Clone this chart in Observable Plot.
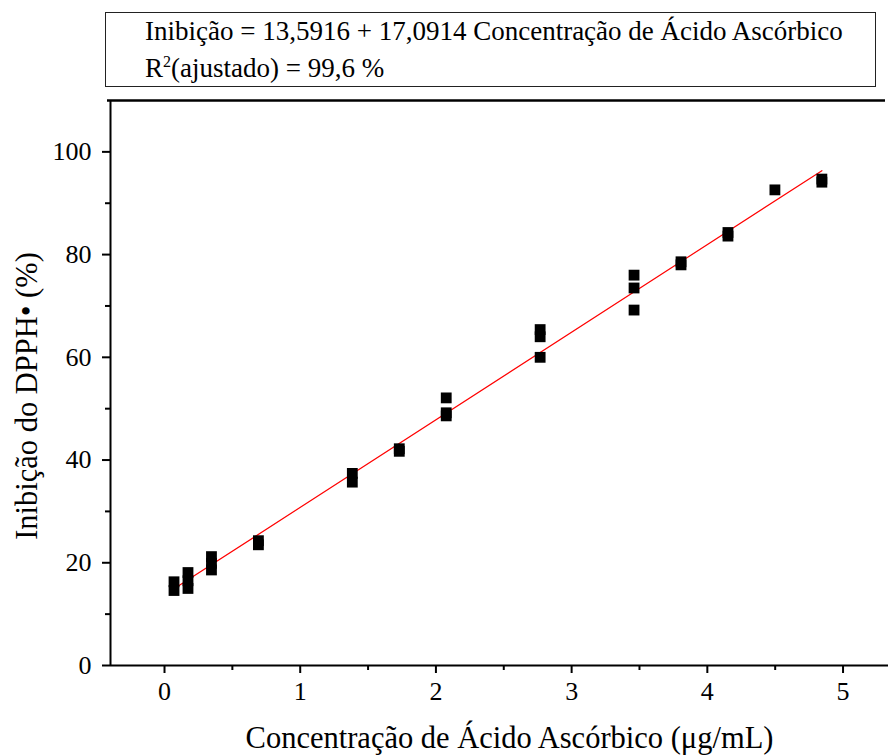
<!DOCTYPE html>
<html><head><meta charset="utf-8">
<script src="https://cdn.jsdelivr.net/npm/d3@7"></script>
<script src="https://cdn.jsdelivr.net/npm/@observablehq/plot@0.6"></script>
<style>
body{margin:0;background:#fff;font-family:"Liberation Serif","Times New Roman",serif;}
#wrap{position:relative;width:888px;height:756px;overflow:hidden;}
#chart{position:absolute;left:0;top:0;}
#box{position:absolute;left:105px;top:12px;width:771px;height:75px;border:1px solid #222;box-sizing:border-box;font-size:27px;color:#000;}
#box .ln{position:absolute;left:39px;height:27px;line-height:27px;white-space:nowrap;}
#l1{top:5px;}
#l2{top:42px;}
#box sup{font-size:16px;vertical-align:10px;line-height:0;}
</style></head>
<body><div id="wrap"><div id="chart"></div><div id="box"><div class="ln" id="l1"></div><div class="ln" id="l2"></div></div></div>
<script>
// Data
const concentration = [0.07,0.07, 0.173,0.173,0.173, 0.346,0.346,0.346, 0.692,0.692, 1.384,1.384, 1.73,1.73, 2.076,2.076,2.076, 2.768,2.768,2.768, 3.46,3.46,3.46, 3.806,3.806, 4.152,4.152, 4.498, 4.844,4.844];
const inhibition =    [16.3,14.6, 18.1,16.5,15.0, 21.2,19.9,18.6, 24.3,23.5, 37.4,35.7, 42.2,41.7, 52.1,49.2,48.6, 65.4,64.0,60.0, 76.0,73.5,69.2, 78.6,78.0, 84.3,83.6, 92.6, 94.7,94.1];
const xTicks = [0,1,2,3,4,5];
const xMinorTicks = [0.5,1.5,2.5,3.5,4.5];
const yTicks = [0,20,40,60,80,100];
const yMinorTicks = [10,30,50,70,90];
const xDomain = [-0.398, 5.335];
const yDomain = [0, 110];
const equationText = "Inibição = 13,5916 + 17,0914 Concentração de Ácido Ascórbico";
const r2Label = "R";
const r2Rest = "(ajustado) = 99,6 %";
const xTitle = "Concentração de Ácido Ascórbico (μg/mL)";
const yTitle = "Inibição do DPPH• (%)";

const data = concentration.map((c, i) => ({c, v: inhibition[i]}));
const font = "Liberation Serif, Times New Roman, serif";

const chart = Plot.plot({
  width: 888, height: 756,
  marginTop: 100, marginBottom: 91, marginLeft: 110, marginRight: 0,
  style: {fontFamily: font, background: "white", color: "black", overflow: "visible"},
  x: {domain: xDomain},
  y: {domain: yDomain},
  marks: [
    Plot.axisX({ticks: xTicks, tickSize: 8, tickPadding: 8, strokeWidth: 2, fontSize: 26, label: null, tickFormat: d => String(d)}),
    Plot.axisX({ticks: xMinorTicks, tickSize: 5, strokeWidth: 2, text: null, label: null}),
    Plot.axisY({ticks: yTicks, tickSize: 8, tickPadding: 11, strokeWidth: 2, fontSize: 26, label: null, tickFormat: d => String(d)}),
    Plot.axisY({ticks: yMinorTicks, tickSize: 5, strokeWidth: 2, text: null, label: null}),
    Plot.ruleY([yDomain[0]], {stroke: "black", strokeWidth: 2}),
    Plot.ruleY([yDomain[1]], {stroke: "black", strokeWidth: 2.5, dx: -3}),
    Plot.ruleX([xDomain[0]], {stroke: "black", strokeWidth: 2}),
    Plot.linearRegressionY(data, {x: "c", y: "v", ci: 0, stroke: "#ff0000", strokeWidth: 1.2}),
    Plot.dot(data, {x: "c", y: "v", symbol: "square", r: 6.1, fill: "black", stroke: "none"}),
    Plot.text([xTitle], {frameAnchor: "bottom", textAnchor: "middle", lineAnchor: "middle", dy: 73, dx: 10, fontSize: 30.5, text: d => d}),
    Plot.text([yTitle], {frameAnchor: "left", textAnchor: "middle", lineAnchor: "middle", rotate: -90, dx: -83, dy: 13, fontSize: 30.5, text: d => d})
  ]
});
document.getElementById("chart").appendChild(chart);
document.getElementById("l1").textContent = equationText;
const l2 = document.getElementById("l2");
l2.append(r2Label);
const sup = document.createElement("sup"); sup.textContent = "2"; l2.append(sup);
l2.append(r2Rest);
</script>
</body></html>
